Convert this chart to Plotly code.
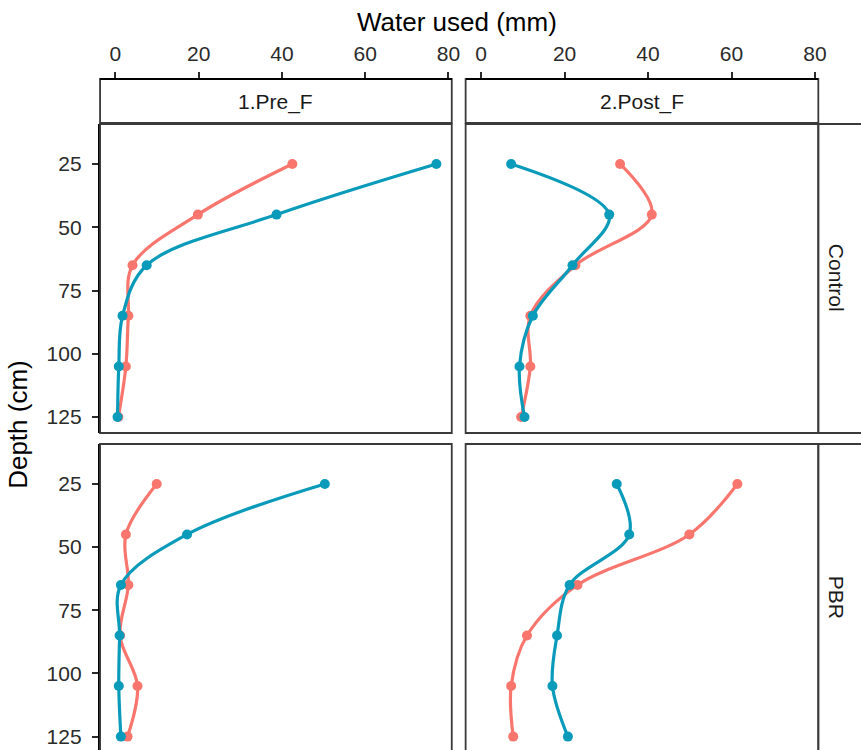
import plotly.graph_objects as go

# Depth of each soil layer (cm)
depth = [25, 45, 65, 85, 105, 125]

# Water used (mm) per layer, by treatment row and period column
control_pre_a = [42.5, 19.8, 4.1, 3.1, 2.5, 0.7]
control_pre_b = [77.1, 38.7, 7.5, 1.7, 0.8, 0.5]
control_post_a = [33.3, 40.9, 22.6, 11.8, 11.8, 9.6]
control_post_b = [7.2, 30.7, 21.9, 12.4, 9.2, 10.4]
pbr_pre_a = [9.9, 2.5, 3.1, 1.1, 5.3, 2.9]
pbr_pre_b = [50.3, 17.2, 1.3, 1.0, 0.8, 1.3]
pbr_post_a = [61.4, 49.9, 23.1, 11.0, 7.2, 7.7]
pbr_post_b = [32.5, 35.5, 21.2, 18.2, 17.1, 20.8]

col_labels = ["1.Pre_F", "2.Post_F"]
row_labels = ["Control", "PBR"]
x_ticks = [0, 20, 40, 60, 80]
y_ticks = [25, 50, 75, 100, 125]

COL_A = "#F8766D"
COL_B = "#0A9BBB"

W, H = 861, 750
FONT = "Liberation Sans, Arial, sans-serif"
TICK_COL = "#2b2b2b"


def px(x):
    return x / W


def py(y):
    return 1 - y / H


# panel geometry in pixels
cols_px = [(101, 456), (470, 826)]
rows_px = [(124, 433), (444, 750)]
strip_top = 79
x_range = [-3.7, 80.8]
y_range_top = [131.3, 9.2]
y_range_bot = [130.3, 9.2]

panels = [
    (0, 0, control_pre_a, control_pre_b),
    (0, 1, control_post_a, control_post_b),
    (1, 0, pbr_pre_a, pbr_pre_b),
    (1, 1, pbr_post_a, pbr_post_b),
]

fig = go.Figure()
layout_axes = {}

for i, (r, c, va, vb) in enumerate(panels, start=1):
    xname = "x" if i == 1 else f"x{i}"
    yname = "y" if i == 1 else f"y{i}"
    for vals, col in ((va, COL_A), (vb, COL_B)):
        fig.add_trace(go.Scatter(
            x=vals, y=depth, xaxis=xname, yaxis=yname,
            mode="lines+markers",
            line=dict(color=col, width=3.2, shape="spline", smoothing=1),
            marker=dict(color=col, size=10),
            showlegend=False, hoverinfo="x+y",
        ))

    x0, x1 = cols_px[c]
    y0, y1 = rows_px[r]
    xa = dict(
        domain=[px(x0), px(x1)], range=x_range, showgrid=False, zeroline=False,
        tickvals=x_ticks, ticktext=[str(t) for t in x_ticks],
        tickfont=dict(family=FONT, size=21, color=TICK_COL),
    )
    if r == 0:
        xa.update(
            side="top", anchor="free", position=py(strip_top),
            showline=True, linecolor="black", linewidth=2.4,
            ticks="outside", ticklen=6, tickwidth=1.6, tickcolor=TICK_COL,
            showticklabels=True, ticklabelstandoff=2,
        )
    else:
        xa.update(anchor=yname, showline=False, ticks="", showticklabels=False)

    ya = dict(
        domain=[py(y1), py(y0)], range=y_range_top if r == 0 else y_range_bot,
        showgrid=False, zeroline=False, anchor=xname,
        tickvals=y_ticks, ticktext=[str(t) for t in y_ticks],
        tickfont=dict(family=FONT, size=21, color=TICK_COL),
    )
    if c == 0:
        ya.update(
            showline=True, linecolor="black", linewidth=2.4,
            ticks="outside", ticklen=6, tickwidth=1.6, tickcolor=TICK_COL,
            showticklabels=True, ticklabelstandoff=6,
        )
    else:
        ya.update(showline=False, ticks="", showticklabels=False)

    layout_axes["xaxis" if i == 1 else f"xaxis{i}"] = xa
    layout_axes["yaxis" if i == 1 else f"yaxis{i}"] = ya

shapes = []
border = dict(color="#3a3a3a", width=1.8)
for r in range(2):
    for c in range(2):
        x0, x1 = cols_px[c]
        y0, y1 = rows_px[r]
        shapes.append(dict(type="rect", xref="paper", yref="paper",
                           x0=px(x0), x1=px(x1), y0=py(y1 + (12 if r == 1 else 0)),
                           y1=py(y0), line=border, layer="above"))

annotations = []
# column strips
for c, lab in enumerate(col_labels):
    x0, x1 = cols_px[c]
    shapes.append(dict(type="rect", xref="paper", yref="paper",
                       x0=px(x0), x1=px(x1), y0=py(123), y1=py(strip_top),
                       line=border, fillcolor="white", layer="below"))
    annotations.append(dict(text=lab, x=px((x0 + x1) / 2), y=py(102),
                            xref="paper", yref="paper", showarrow=False,
                            font=dict(family=FONT, size=21, color="#1a1a1a"),
                            xanchor="center", yanchor="middle"))
# row strips
row_centres = [278, 597]
for r, lab in enumerate(row_labels):
    y0, y1 = rows_px[r]
    shapes.append(dict(type="rect", xref="paper", yref="paper",
                       x0=px(826), x1=px(900), y0=py(y1 + (12 if r == 1 else 0)),
                       y1=py(y0), line=border, fillcolor="white", layer="below"))
    annotations.append(dict(text=lab, x=px(845), y=py(row_centres[r]),
                            xref="paper", yref="paper", showarrow=False, textangle=90,
                            font=dict(family=FONT, size=21, color="#1a1a1a"),
                            xanchor="center", yanchor="middle"))

# axis titles
annotations.append(dict(text="Water used (mm)", x=px(461), y=py(22),
                        xref="paper", yref="paper", showarrow=False,
                        font=dict(family=FONT, size=26, color="black"),
                        xanchor="center", yanchor="middle"))
annotations.append(dict(text="Depth (cm)", x=px(18), y=py(424),
                        xref="paper", yref="paper", showarrow=False, textangle=-90,
                        font=dict(family=FONT, size=26, color="black"),
                        xanchor="center", yanchor="middle"))

fig.update_layout(
    width=W, height=H,
    margin=dict(l=0, r=0, t=0, b=0),
    paper_bgcolor="white", plot_bgcolor="white",
    shapes=shapes, annotations=annotations,
    **layout_axes,
)

fig.write_html("out.html")
